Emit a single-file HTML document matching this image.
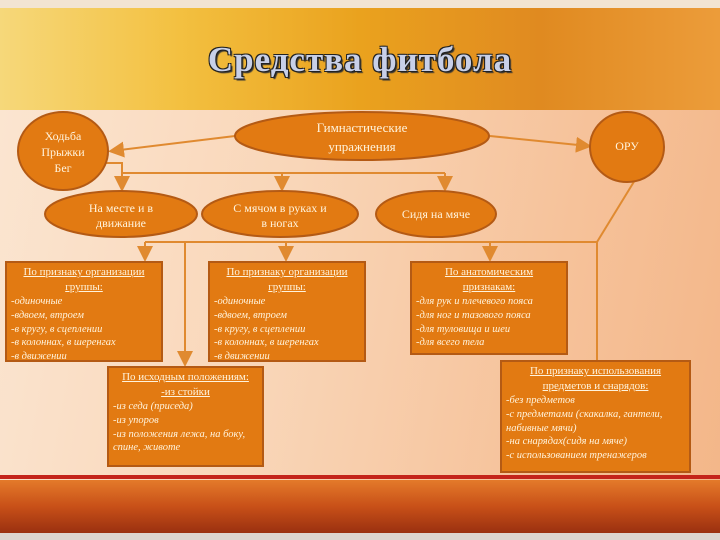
<!DOCTYPE html>
<html><head><meta charset="utf-8"><style>
body{margin:0;width:720px;height:540px;overflow:hidden;position:relative;font-family:"Liberation Serif",serif;
background:linear-gradient(100deg,#fbe6d2 0%,#f9d6b8 40%,#f6c29a 75%,#f3b688 100%);}
.hdr{position:absolute;left:0;top:8px;width:720px;height:102px;background:linear-gradient(90deg,#f6d87a 0%,#f3c040 25%,#eaa21e 50%,#e08a20 75%,#ec9c3a 100%);}
.top{position:absolute;left:0;top:0;width:720px;height:8px;background:#f2e4d2}
.title{position:absolute;left:0;top:40px;width:720px;text-align:center;font-size:35px;font-weight:bold;color:#c8d0e8;letter-spacing:1px;
text-shadow:-1px -1px 0 #222,1px -1px 0 #222,-1px 1px 0 #222,1px 1px 0 #222,2px 2px 1px #333;}
.band{position:absolute;left:0;top:480px;width:720px;height:53px;background:linear-gradient(180deg,#e47a2a 0%,#c85018 50%,#9a3010 100%);}
.rl{position:absolute;left:0;top:475px;width:720px;height:4px;background:#c4241a}
.bot{position:absolute;left:0;top:533px;width:720px;height:7px;background:#dcd4ce}
.t{position:absolute;color:#fff3dc;text-align:center;font-size:12px;line-height:15px;}
.box{position:absolute;background:#e27a12;border:2px solid #b45a14;box-sizing:border-box;color:#fff3dc;font-size:10.5px;line-height:13.8px;font-style:italic;padding:2px 4px;}
.box .h{text-align:center;text-decoration:underline;font-style:normal;font-size:11px;line-height:15px}
</style></head><body>
<div class="top"></div><div class="hdr"></div>
<div class="title">Средства фитбола</div>
<svg width="720" height="540" style="position:absolute;left:0;top:0">
<defs><marker id="a" markerWidth="8" markerHeight="8" refX="6" refY="4" orient="auto"><path d="M0,0 L8,4 L0,8z" fill="#e08a30"/></marker></defs>
<g stroke="#e08a30" stroke-width="2" fill="none">
<line x1="235" y1="136" x2="112" y2="151" marker-end="url(#a)"/>
<line x1="490" y1="136" x2="588" y2="146" marker-end="url(#a)"/>
<polyline points="106,163 122,163 122,187"/>
<line x1="122" y1="163" x2="122" y2="188" marker-end="url(#a)"/>
<line x1="122" y1="173" x2="445" y2="173"/>
<line x1="282" y1="173" x2="282" y2="188" marker-end="url(#a)"/>
<line x1="445" y1="173" x2="445" y2="188" marker-end="url(#a)"/>
<line x1="635" y1="180" x2="597" y2="242"/>
<line x1="145" y1="242" x2="597" y2="242"/>
<line x1="145" y1="242" x2="145" y2="258" marker-end="url(#a)"/>
<line x1="185" y1="242" x2="185" y2="363" marker-end="url(#a)"/>
<line x1="286" y1="242" x2="286" y2="258" marker-end="url(#a)"/>
<line x1="490" y1="242" x2="490" y2="258" marker-end="url(#a)"/>
<line x1="597" y1="242" x2="597" y2="360"/>
</g>
<g fill="#e27a12" stroke="#b45a14" stroke-width="2">
<ellipse cx="362" cy="136" rx="127" ry="24"/>
<ellipse cx="63" cy="151" rx="45" ry="39"/>
<ellipse cx="627" cy="147" rx="37" ry="35"/>
<ellipse cx="121" cy="214" rx="76" ry="23"/>
<ellipse cx="280" cy="214" rx="78" ry="23"/>
<ellipse cx="436" cy="214" rx="60" ry="23"/>
</g>
</svg>
<div class="t" style="left:262px;top:118px;width:200px;font-size:13px;line-height:19px">Гимнастические<br>упражнения</div>
<div class="t" style="left:18px;top:128px;width:90px;line-height:16px">Ходьба<br>Прыжки<br>Бег</div>
<div class="t" style="left:590px;top:139px;width:74px">ОРУ</div>
<div class="t" style="left:50px;top:201px;width:142px">На месте и в<br>движание</div>
<div class="t" style="left:205px;top:201px;width:150px">С мячом в руках и<br>в ногах</div>
<div class="t" style="left:376px;top:207px;width:120px">Сидя на мяче</div>
<div class="box" style="left:5px;top:261px;width:158px;height:101px"><div class="h">По признаку организации<br>группы:</div>-одиночные<br>-вдвоем, втроем<br>-в кругу, в сцеплении<br>-в колоннах, в шеренгах<br>-в движении</div>
<div class="box" style="left:208px;top:261px;width:158px;height:101px"><div class="h">По признаку организации<br>группы:</div>-одиночные<br>-вдвоем, втроем<br>-в кругу, в сцеплении<br>-в колоннах, в шеренгах<br>-в движении</div>
<div class="box" style="left:410px;top:261px;width:158px;height:94px"><div class="h">По анатомическим<br>признакам:</div>-для рук и плечевого пояса<br>-для ног и тазового пояса<br>-для туловища и шеи<br>-для всего тела</div>
<div class="box" style="left:107px;top:366px;width:157px;height:101px"><div class="h">По исходным положениям:<br>-из стойки</div>-из седа (приседа)<br>-из упоров<br>-из положения лежа, на боку, спине, животе</div>
<div class="box" style="left:500px;top:360px;width:191px;height:113px"><div class="h">По признаку использования<br>предметов и снарядов:</div>-без предметов<br>-с предметами (скакалка, гантели, набивные мячи)<br>-на снарядах(сидя на мяче)<br>-с использованием тренажеров</div>
<div class="rl"></div><div class="band"></div><div class="bot"></div>
</body></html>
